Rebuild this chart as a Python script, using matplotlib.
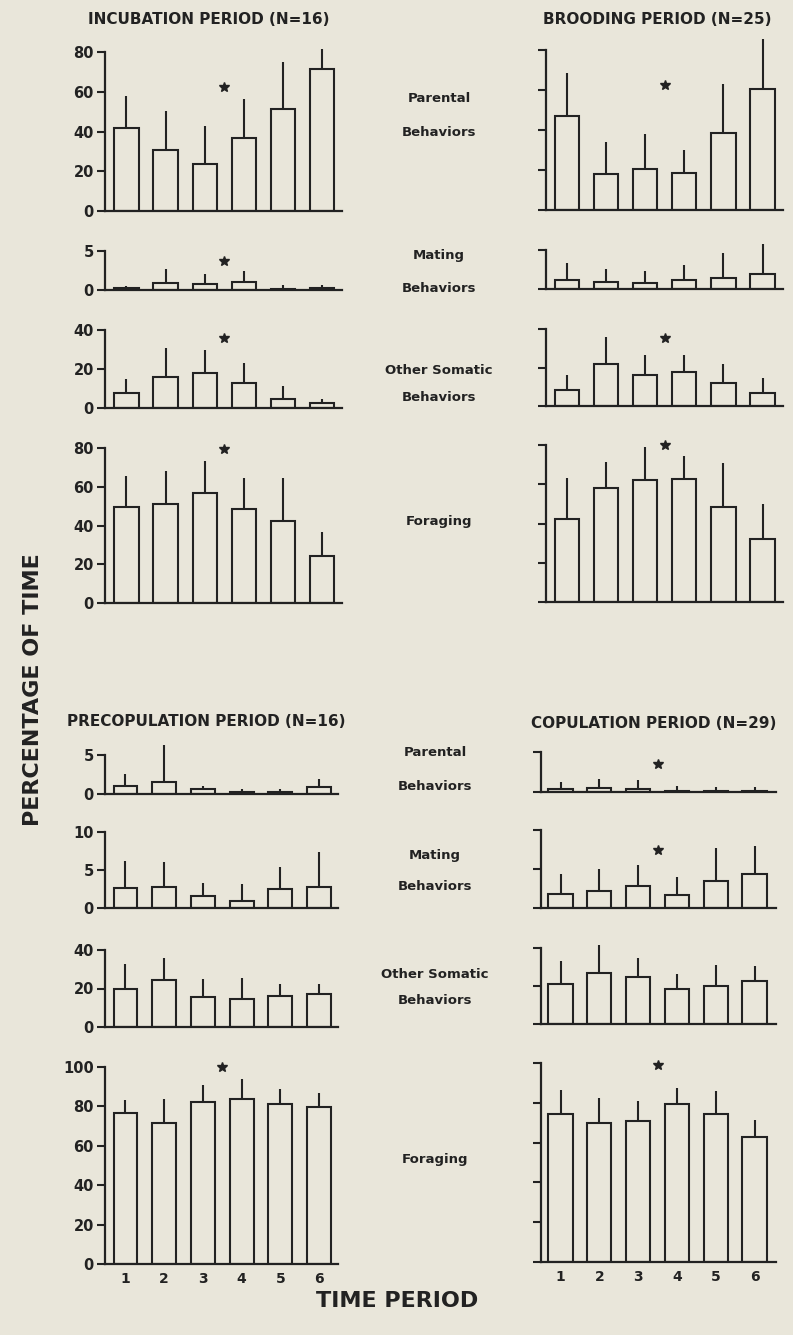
import matplotlib
matplotlib.use("Agg")
import matplotlib.pyplot as plt

plt.rcParams["font.family"] = ["DejaVu Sans"]
plt.rcParams["font.weight"] = "bold"

W, H = 793, 1335
BG = "#e9e6da"
INK = "#222222"

periods = [1, 2, 3, 4, 5, 6]

# incubation period (N=16)
inc_parental = [41.8, 30.5, 23.4, 36.5, 51.5, 71.3]
inc_parental_sd = [15.9, 19.7, 19.3, 19.7, 23.5, 10.0]
inc_mating = [0.2, 0.93, 0.72, 0.97, 0.1, 0.2]
inc_mating_sd = [0.3, 1.8, 1.3, 1.5, 0.5, 0.5]
inc_somatic = [7.7, 15.8, 17.7, 13.0, 4.5, 2.6]
inc_somatic_sd = [7.1, 14.9, 11.8, 10.1, 7.0, 2.2]
inc_foraging = [49.5, 51.3, 56.8, 48.3, 42.3, 24.5]
inc_foraging_sd = [16.2, 16.9, 16.7, 16.1, 22.1, 11.9]

# brooding period (N=25)
brd_parental = [47.2, 18.0, 20.3, 18.3, 38.7, 60.3]
brd_parental_sd = [21.5, 15.8, 17.7, 11.5, 24.3, 25.0]
brd_mating = [1.1, 0.9, 0.76, 1.14, 1.36, 1.86]
brd_mating_sd = [2.2, 1.7, 1.5, 1.9, 3.3, 3.9]
brd_somatic = [8.2, 21.7, 16.3, 17.7, 12.0, 6.6]
brd_somatic_sd = [8.1, 14.3, 10.3, 8.7, 9.6, 8.0]
brd_foraging = [42.5, 58.2, 62.1, 62.6, 48.2, 32.0]
brd_foraging_sd = [20.5, 13.3, 16.7, 12.0, 22.4, 17.7]

# precopulation period (N=16)
pre_parental = [1.03, 1.54, 0.68, 0.2, 0.2, 0.94]
pre_parental_sd = [1.5, 4.7, 0.3, 0.5, 0.5, 1.0]
pre_mating = [2.6, 2.8, 1.6, 0.9, 2.5, 2.7]
pre_mating_sd = [3.6, 3.3, 1.7, 2.3, 2.9, 4.7]
pre_somatic = [20.0, 24.3, 15.7, 14.4, 16.2, 17.0]
pre_somatic_sd = [12.7, 11.7, 9.0, 11.2, 6.1, 5.3]
pre_foraging = [76.5, 71.5, 82.2, 84.0, 81.2, 79.7]
pre_foraging_sd = [6.7, 12.3, 8.6, 9.8, 7.5, 7.0]

# copulation period (N=29)
cop_parental = [0.4, 0.54, 0.33, 0.15, 0.15, 0.15]
cop_parental_sd = [0.85, 1.06, 1.13, 0.55, 0.45, 0.45]
cop_mating = [1.8, 2.2, 2.8, 1.7, 3.5, 4.4]
cop_mating_sd = [2.6, 2.8, 2.7, 2.3, 4.2, 3.6]
cop_somatic = [21.0, 26.9, 24.5, 18.3, 20.1, 22.4]
cop_somatic_sd = [12.2, 14.8, 10.3, 8.2, 10.9, 8.2]
cop_foraging = [74.6, 69.7, 70.8, 79.3, 74.6, 62.7]
cop_foraging_sd = [11.8, 12.5, 10.2, 8.3, 11.4, 8.8]

# significance stars (value height, None = no star)
inc_stars = [62.4, 3.7, 35.7, 79.4]
brd_stars = [62.5, None, 35.5, 80.0]
pre_stars = [None, None, None, 100.0]
cop_stars = [3.5, 7.4, None, 98.8]

ticks_top = [[0, 20, 40, 60, 80], [0, 5], [0, 20, 40], [0, 20, 40, 60, 80]]
ticks_bot = [[0, 5], [0, 5, 10], [0, 20, 40], [0, 20, 40, 60, 80, 100]]

fig = plt.figure(figsize=(W / 100, H / 100), dpi=100, facecolor=BG)


def add_panel(spine_x, end_x, c1, step, top_px, base_px, means, sds, ticks,
              star=None, labels=True, xlabels=False):
    ax = fig.add_axes([spine_x / W, 1 - base_px / H, (end_x - spine_x) / W,
                       (base_px - top_px) / H])
    ax.set_facecolor("none")
    x0 = 1 - (c1 - spine_x) / step
    x1 = x0 + (end_x - spine_x) / step
    ax.set_xlim(x0, x1)
    ax.set_ylim(0, ticks[-1])
    ax.bar(periods, means, width=0.62, facecolor="none", edgecolor=INK,
           linewidth=1.5, zorder=3)
    tops = [m + s for m, s in zip(means, sds)]
    ax.vlines(periods, means, tops, color=INK, linewidth=1.5, clip_on=False)
    if star is not None:
        ax.plot(3.5, star, marker="*", ms=7.5, color=INK, clip_on=False)
    for side in ("top", "right"):
        ax.spines[side].set_visible(False)
    for side in ("left", "bottom"):
        ax.spines[side].set_color(INK)
        ax.spines[side].set_linewidth(1.6)
    ax.set_yticks(ticks)
    ax.tick_params(axis="y", length=6, width=1.5, color=INK, direction="out",
                   labelsize=10.5, pad=2, labelcolor=INK)
    if not labels:
        ax.set_yticklabels([])
    else:
        ax.set_yticklabels([str(t) for t in ticks], fontweight="bold")
    ax.set_xticks(periods)
    if xlabels:
        ax.tick_params(axis="x", length=0, labelsize=10, pad=6, labelcolor=INK)
        ax.set_xticklabels([str(p) for p in periods], fontweight="bold")
    else:
        ax.tick_params(axis="x", length=0, labelbottom=False)
    return ax


top_rows = [(52, 211), (251, 290), (330, 408), (448, 603)]
top_rows_r = [(50, 210), (250, 289), (329, 406), (445, 602)]
bot_rows = [(755, 794), (832, 908), (950, 1027), (1067, 1264)]
bot_rows_r = [(752, 792), (830, 908), (948, 1024), (1063, 1262)]

inc = [(inc_parental, inc_parental_sd), (inc_mating, inc_mating_sd),
       (inc_somatic, inc_somatic_sd), (inc_foraging, inc_foraging_sd)]
brd = [(brd_parental, brd_parental_sd), (brd_mating, brd_mating_sd),
       (brd_somatic, brd_somatic_sd), (brd_foraging, brd_foraging_sd)]
pre = [(pre_parental, pre_parental_sd), (pre_mating, pre_mating_sd),
       (pre_somatic, pre_somatic_sd), (pre_foraging, pre_foraging_sd)]
cop = [(cop_parental, cop_parental_sd), (cop_mating, cop_mating_sd),
       (cop_somatic, cop_somatic_sd), (cop_foraging, cop_foraging_sd)]

for i in range(4):
    m, s = inc[i]
    add_panel(105, 342, 126.5, 39.1, *top_rows[i], m, s, ticks_top[i], inc_stars[i])
    m, s = brd[i]
    add_panel(546, 783, 567, 39.1, *top_rows_r[i], m, s, ticks_top[i], brd_stars[i],
              labels=False)
    m, s = pre[i]
    add_panel(105, 338, 125.5, 38.7, *bot_rows[i], m, s, ticks_bot[i], pre_stars[i],
              xlabels=(i == 3))
    m, s = cop[i]
    add_panel(541, 776, 560.5, 38.8, *bot_rows_r[i], m, s, ticks_bot[i], cop_stars[i],
              labels=False, xlabels=(i == 3))


def ftext(x, y, s, **kw):
    fig.text(x / W, 1 - y / H, s, color=INK, fontweight="bold", **kw)


ftext(209, 19, "INCUBATION PERIOD (N=16)", fontsize=11, ha="center", va="center")
ftext(657, 19, "BROODING PERIOD (N=25)", fontsize=11, ha="center", va="center")
ftext(206, 721, "PRECOPULATION PERIOD (N=16)", fontsize=11, ha="center", va="center")
ftext(654, 723, "COPULATION PERIOD (N=29)", fontsize=11, ha="center", va="center")

mid_top = [("Parental", 99), ("Behaviors", 133), ("Mating", 255), ("Behaviors", 288),
           ("Other Somatic", 370), ("Behaviors", 398), ("Foraging", 521)]
mid_bot = [("Parental", 753), ("Behaviors", 787), ("Mating", 855), ("Behaviors", 887),
           ("Other Somatic", 975), ("Behaviors", 1000), ("Foraging", 1160)]
for s, y in mid_top:
    ftext(439, y, s, fontsize=9.5, ha="center", va="center")
for s, y in mid_bot:
    ftext(435, y, s, fontsize=9.5, ha="center", va="center")

ftext(33, 690, "PERCENTAGE OF TIME", fontsize=16, ha="center", va="center", rotation=90)
ftext(397, 1301, "TIME PERIOD", fontsize=16, ha="center", va="center")

fig.savefig("out.png", dpi=100, facecolor=BG)
